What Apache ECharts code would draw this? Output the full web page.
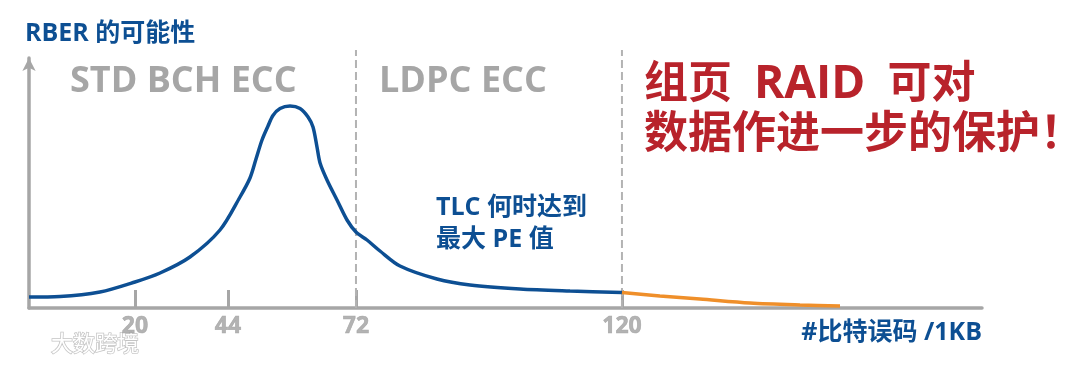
<!DOCTYPE html>
<html>
<head>
<meta charset="utf-8">
<script src="https://cdn.jsdelivr.net/npm/echarts@6/dist/echarts.min.js"></script>
<style>
html,body{margin:0;padding:0;background:#fff;}
#c{width:1080px;height:367px;}
</style>
</head>
<body>
<div id="c"></div>
<script>
// x positions are in "axis length percent" (schematic, non-linear error-count axis)
var tickPos = [11.12, 20.88, 34.31, 62.22];
var tickLabels = ['20', '44', '72', '120'];
var dashPos = [34.31, 62.22];
var dashTop = 103.2;

// blue curve: RBER probability (relative units 0-100)
var blueX = [0, 3.25, 7.45, 11.12, 13.75, 16.89, 20.04, 22.14, 23.19, 23.82, 24.45, 25.08, 25.6, 26.34, 27.39, 28.44, 29.28, 29.80, 30.22, 30.54, 31.27, 32.32, 33.37, 34.31, 35.47, 36.83, 38.93, 42.81, 46.28, 51.52, 56.77, 62.22];
var blueY = [4.4, 4.6, 6.4, 10.4, 14.0, 20.4, 31.2, 44.4, 52.0, 59.6, 67.2, 72.8, 77.0, 79.8, 80.8, 79.8, 76.4, 72.4, 64.4, 58.0, 51.2, 43.2, 35.2, 30.4, 27.2, 22.8, 16.8, 11.6, 9.2, 7.6, 6.8, 6.2];

// orange tail (beyond TLC max PE)
var orangeX = [62.22, 66.2, 70.4, 75.66, 80.9, 85.1];
var orangeY = [6.2, 4.8, 3.6, 2.0, 1.2, 0.8];

var yName = 'RBER 的可能性';
var xName = '#比特误码 /1KB';
var zone1 = 'STD BCH ECC';
var zone2 = 'LDPC ECC';
var noteText = 'TLC 何时达到\n最大 PE 值';
var redLine1 = ['组页', 'RAID', '可对'];
var redLine2 = '数据作进一步的保护！';
var watermark = '大数跨境';

function zip(a, b) { return a.map(function (v, i) { return [v, b[i]]; }); }

var FF = "Open Sans, Noto Sans CJK SC, sans-serif";
var GRAY = '#a6a6a6';
var BLUE = '#0d4f93';
var RED = '#b8232b';
var ORANGE = '#ef8f2a';

var chart = echarts.init(document.getElementById('c'));
var dashSeries = dashPos.map(function (p) {
  return {
    type: 'line', data: [[p, 0], [p, dashTop]], symbol: 'none', silent: true, clip: false,
    lineStyle: { color: '#b3b3b3', width: 2, type: [8, 4] }, z: 1
  };
});

var redStyle = { fill: RED, fontSize: 44, fontWeight: 'bold', fontFamily: FF, lineHeight: 50 };
var redRich = {
  c: { fill: RED, fontSize: 44, fontWeight: 'bold', fontFamily: FF, lineHeight: 50 },
  r: { fill: RED, fontSize: 46, fontWeight: 'bold', fontFamily: FF, lineHeight: 50 },
  s: { width: 22, fontSize: 44, lineHeight: 50 }
};

chart.setOption({
  animation: false,
  textStyle: { fontFamily: FF },
  grid: { left: 29, right: 98, top: 58, bottom: 59 },
  xAxis: {
    type: 'value', min: 0, max: 100,
    splitLine: { show: false },
    axisLine: { show: true, lineStyle: { color: GRAY, width: 3.5 } },
    axisTick: { show: true, customValues: tickPos, inside: true, length: 18, lineStyle: { color: GRAY, width: 3 } },
    axisLabel: { show: false },
    name: xName, nameLocation: 'end', nameGap: 0,
    nameTextStyle: { color: BLUE, fontSize: 25, fontWeight: 'bold', fontFamily: FF, align: 'right', verticalAlign: 'top', padding: [12, 0, 0, 0] }
  },
  yAxis: {
    type: 'value', min: 0, max: 100,
    splitLine: { show: false },
    axisLine: { show: true, symbol: ['none', 'arrow'], symbolSize: [10, 13], lineStyle: { color: GRAY, width: 3.5 } },
    axisTick: { show: false },
    axisLabel: { show: false },
    name: yName, nameLocation: 'end', nameGap: 24,
    nameTextStyle: { color: BLUE, fontSize: 25, fontWeight: 'bold', fontFamily: FF, align: 'left', verticalAlign: 'middle', padding: [0, 0, 0, -4] }
  },
  series: dashSeries.concat([
    {
      type: 'line', data: zip(blueX, blueY), smooth: 0.3, symbol: 'none', z: 3,
      lineStyle: { color: BLUE, width: 3.5 }
    },
    {
      type: 'line', data: zip(orangeX, orangeY), smooth: 0.3, symbol: 'none', z: 3,
      lineStyle: { color: ORANGE, width: 3.5 }
    },
    {
      // tick labels placed through the x scale
      type: 'scatter', data: tickPos.map(function (p) { return [p, 0]; }),
      symbolSize: 0, silent: true, clip: false, z: 4,
      label: {
        show: true, position: 'bottom', distance: 7,
        color: '#a0a0a0', fontSize: 23, fontWeight: 700, fontFamily: 'Open Sans',
        textBorderColor: '#a0a0a0', textBorderWidth: 0.6,
        formatter: function (p) { return tickLabels[p.dataIndex]; }
      }
    }
  ]),
  graphic: [
    { type: 'text', x: 70, y: 82, style: { text: zone1, fill: GRAY, fontSize: 36, fontWeight: 'bold', fontFamily: FF, verticalAlign: 'middle' } },
    { type: 'text', x: 379, y: 82, style: { text: zone2, fill: GRAY, fontSize: 36, fontWeight: 'bold', fontFamily: FF, verticalAlign: 'middle' } },
    { type: 'text', x: 436, y: 192, style: { text: noteText, fill: BLUE, fontSize: 25, lineHeight: 32, fontWeight: 'bold', fontFamily: FF, verticalAlign: 'top' } },
    { type: 'text', x: 644, y: 60, style: { text: '{c|' + redLine1[0] + '}{s| }{r|' + redLine1[1] + '}{s| }{c|' + redLine1[2] + '}', rich: redRich, verticalAlign: 'top' } },
    { type: 'text', x: 644, y: 110, style: Object.assign({ text: redLine2, verticalAlign: 'top' }, redStyle) },
    { type: 'text', x: 51, y: 343, style: { text: watermark, fill: '#ffffff', stroke: '#c4c4c4', lineWidth: 1.5, fontSize: 22, fontFamily: "Noto Sans CJK SC, sans-serif", verticalAlign: 'middle' } }
  ]
});
</script>
</body>
</html>
